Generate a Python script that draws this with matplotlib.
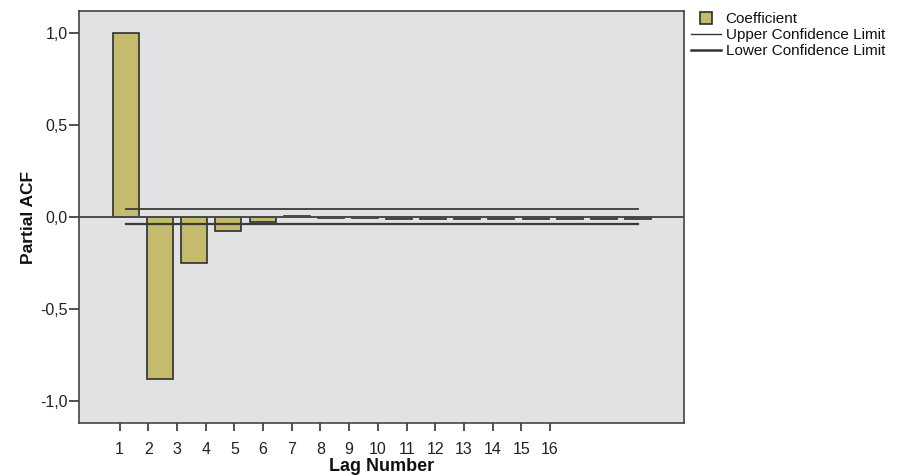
import numpy as np
import matplotlib
matplotlib.use("Agg")
import matplotlib.pyplot as plt
from matplotlib.lines import Line2D

plt.rcParams['font.family'] = ['Liberation Sans', 'DejaVu Sans']

# data
lags = np.arange(1, 17)
pacf = [1.0, -0.88, -0.25, -0.077, -0.025, 0.007, -0.003, -0.007,
        -0.012, -0.013, -0.013, -0.012, -0.012, -0.011, -0.012, -0.012]
upper_limit = 0.042
lower_limit = -0.040
y_ticks = [1.0, 0.5, 0.0, -0.5, -1.0]
y_tick_labels = ['1,0', '0,5', '0,0', '-0,5', '-1,0']

bar_color = '#c4bc6c'
edge_color = '#2e2e2e'
panel_bg = '#e1e2e4'

fig = plt.figure(figsize=(8.99, 4.75), dpi=100)
ax = fig.add_axes([0.0879, 0.1095, 0.6730, 0.8674])
ax.set_facecolor(panel_bg)

ax.bar(lags, pacf, width=0.76, color=bar_color, edgecolor=edge_color,
       linewidth=1.2, zorder=3)
ax.axhline(0, color='#4a4a4a', linewidth=1.4, zorder=4)
ax.plot([lags[0], lags[-1]], [upper_limit, upper_limit], color='#3a3a3a',
        linewidth=1.3, zorder=5)
ax.plot([lags[0], lags[-1]], [lower_limit, lower_limit], color='#3a3a3a',
        linewidth=1.6, zorder=5)

ax.set_xlim(-0.377, 17.35)
ax.set_ylim(-1.12, 1.12)

# the tick row in the original is squeezed relative to the bars
tick_pos = 0.81 + 0.841 * (lags - 1)
ax.set_xticks(tick_pos)
ax.set_xticklabels([str(k) for k in lags])
ax.set_yticks(y_ticks)
ax.set_yticklabels(y_tick_labels)
ax.tick_params(axis='both', direction='out', width=1.2,
               color='#333333', labelsize=11.5, labelcolor='#222222')
ax.tick_params(axis='x', length=5.5, pad=8)
ax.tick_params(axis='y', length=7.5, pad=0.5)

for s in ax.spines.values():
    s.set_color('#444444')
    s.set_linewidth(1.2)

ax.set_ylabel('Partial ACF', fontsize=12.5, fontweight='bold', labelpad=3,
              color='#111111')
ax.set_xlabel('Lag Number', fontsize=13, fontweight='bold', labelpad=1,
              color='#111111')

handles = [
    Line2D([], [], linestyle='none', marker='s', markersize=9,
           markerfacecolor=bar_color, markeredgecolor=edge_color,
           markeredgewidth=1.2),
    Line2D([], [], color='#333333', linewidth=1.0),
    Line2D([], [], color='#333333', linewidth=1.8),
]
labels = ['Coefficient', 'Upper Confidence Limit', 'Lower Confidence Limit']
leg = fig.legend(handles, labels, loc='upper left',
                 bbox_to_anchor=(0.758, 0.993), frameon=False, fontsize=11,
                 handlelength=2.0, handletextpad=0.3, labelspacing=0.12,
                 borderaxespad=0.2)
for t in leg.get_texts():
    t.set_color('#111111')

fig.savefig('out.png', dpi=100)
